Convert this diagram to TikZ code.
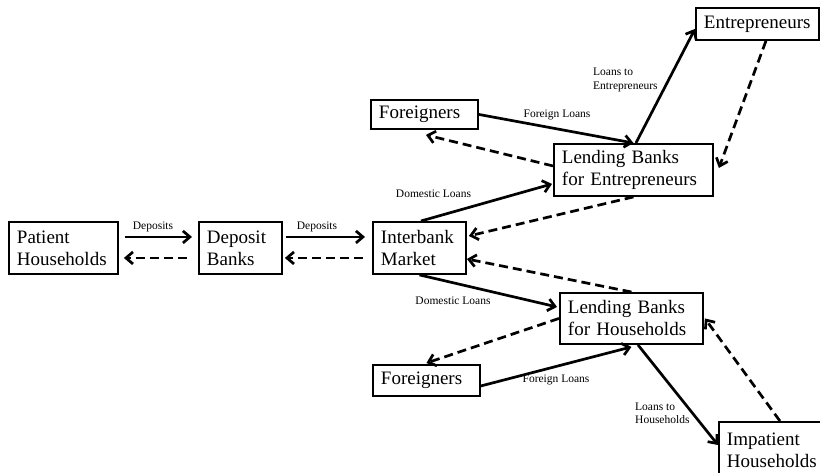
\documentclass[tikz,border=0pt]{standalone}
\usepackage{fontspec}
\setmainfont{Liberation Serif}
\usetikzlibrary{arrows.meta}
\usetikzlibrary{positioning}

\begin{document}
\begin{tikzpicture}[x=1pt, y=-1pt,
    sector/.style={draw, line width=1.9pt, anchor=north west, align=left, inner xsep=8pt, inner ysep=0pt, font=\fontsize{19}{22}\selectfont},
    flow/.style={line width=2.7pt, -{Straight Barb[length=7pt,width=12pt]}},
    backflow/.style={flow, dash pattern=on 9pt off 5pt},
    flowlabel/.style={inner sep=0pt, font=\fontsize{11.5}{13.5}\selectfont}]
    \useasboundingbox (0,0) rectangle (820,472);
    % sectors
    \node[sector, text width=93pt, minimum height=52pt] (PH) at (8,221) {Patient\\Households};
    \node[sector, text width=67pt, minimum height=52pt] (DB) at (198,221) {Deposit\\Banks};
    \node[sector, text width=77pt, minimum height=52pt] (IM) at (372,221) {Interbank\\Market};
    \node[sector, text width=91pt, minimum height=29pt] (FT) at (370,99) {Foreigners};
    \node[sector, text width=107pt, minimum height=32pt] (ENT) at (695,7) {Entrepreneurs};
    \node[sector, text width=143pt, minimum height=52pt] (LBE) at (553,143) {Lending Banks\\for Entrepreneurs};
    \node[sector, text width=127pt, minimum height=51pt] (LBH) at (559,292) {Lending Banks\\for Households};
    \node[sector, text width=91pt, minimum height=31pt] (FB) at (372,364) {Foreigners};
    \node[sector, text width=94pt, minimum height=56pt] (IH) at (718,421) {Impatient\\Households};

    % deposits
    \draw[flow] ([xshift=6pt,yshift=11pt]PH.east) -- ([xshift=-6pt,yshift=11pt]DB.west);
    \draw[backflow] ([xshift=-11pt,yshift=-10pt]DB.west) -- ([xshift=5pt,yshift=-10pt]PH.east);
    \draw[flow] ([xshift=3pt,yshift=11pt]DB.east) -- ([xshift=-7pt,yshift=11pt]IM.west);
    \draw[backflow] ([xshift=-9pt,yshift=-10pt]IM.west) -- ([xshift=2pt,yshift=-10pt]DB.east);
    \node[flowlabel] (dep1) at (153,227) {Deposits};
    \node[flowlabel] (dep2) at (317,227) {Deposits};

    % entrepreneurs side
    \draw[flow] ([xshift=1.5pt]IM.north) -- ([xshift=-1pt,yshift=-14pt]LBE.west);
    \draw[backflow] (LBE.south) -- ([xshift=2pt,yshift=12pt]IM.east);
    \draw[flow] (FT.east) -- (LBE.north);
    \draw[backflow] ([yshift=4pt]LBE.west) -- ([xshift=1.5pt,yshift=-5pt]FT.south);
    \draw[flow] ([xshift=2.5pt]LBE.north) -- ([yshift=12pt]ENT.south west);
    \draw[backflow] ([xshift=8.5pt]ENT.south) -- ([xshift=5pt,yshift=2pt]LBE.east);
    \node[flowlabel] (dom1) at (433.5,194) {Domestic Loans};
    \node[flowlabel] (for1) at (557,115) {Foreign Loans};
    \node[flowlabel, anchor=west, align=left] (lte) at (593,80) {Loans to\\Entrepreneurs};

    % households side
    \draw[flow] (IM.south) -- ([xshift=-2pt,yshift=11.5pt]LBH.west);
    \draw[backflow] (LBH.north) -- ([yshift=-11pt]IM.east);
    \draw[backflow] (LBH.west) -- ([yshift=1pt]FB.north);
    \draw[flow] ([yshift=-5.5pt]FB.east) -- ([yshift=-2pt]LBH.south);
    \draw[flow] ([xshift=6.5pt]LBH.south) -- ([yshift=-24pt]IH.north west);
    \draw[backflow] ([xshift=6pt]IH.north) -- ([xshift=1pt]LBH.east);
    \node[flowlabel] (dom2) at (453,301) {Domestic Loans};
    \node[flowlabel] (for2) at (556,380) {Foreign Loans};
    \node[flowlabel, anchor=west, align=left] (lth) at (635,413.5) {Loans to\\Households};
\end{tikzpicture}
\end{document}
